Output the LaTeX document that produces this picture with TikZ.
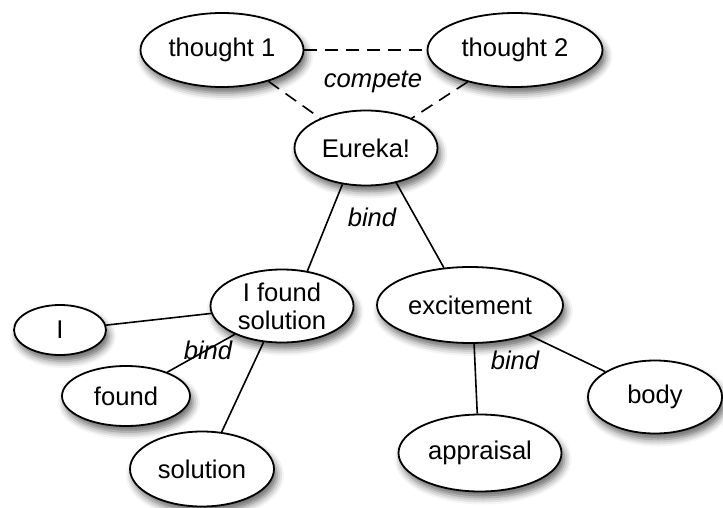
\documentclass[tikz,border=0pt]{standalone}
\usepackage{fontspec}
\setmainfont{Liberation Sans}
\usetikzlibrary{shapes.geometric, shadows.blur}
\definecolor{cInk}{HTML}{000000}
\definecolor{cFill}{HTML}{FFFFFF}
\tikzset{
  concept/.style={ellipse, draw=cInk, fill=cFill, line width=0.9pt, inner sep=0pt,
                  align=center, font=\fontsize{12.8}{14}\selectfont, text=cInk,
                  blur shadow={shadow xshift=1.5pt, shadow yshift=-3pt,
                               shadow blur radius=3.5pt, shadow opacity=60}},
  link/.style={line width=0.8pt, draw=cInk},
  rival/.style={link, dash pattern=on 6.5pt off 4pt},
  rel/.style={font=\fontsize{12.8}{14}\selectfont\itshape, text=cInk, inner sep=0pt},
}

\begin{document}
\begin{tikzpicture}[x=0.5pt, y=-0.5pt]
  \useasboundingbox (0,0) rectangle (723,508);

  % ---- competing thoughts and the insight
  \node[concept, minimum width=81.5pt, minimum height=37pt] (t1) at (222,50) {thought 1};
  \node[concept, minimum width=87.5pt, minimum height=37pt] (t2) at (515,50) {thought 2};
  \node[concept, minimum width=71.5pt, minimum height=37.5pt] (eureka) at (366,148) {Eureka!};

  % ---- bound parts
  \node[concept, minimum width=71.5pt, minimum height=36.5pt] (ifs) at (282,306) {I found\\ solution};
  \node[concept, minimum width=93pt, minimum height=38pt] (exc) at (470,305) {excitement};
  \node[concept, minimum width=46pt, minimum height=25pt] (wI) at (60,330) {I};
  \node[concept, minimum width=64pt, minimum height=30pt] (wfound) at (126,396) {found};
  \node[concept, minimum width=72pt, minimum height=37.5pt] (wsol) at (202,469) {solution};
  \node[concept, minimum width=81.5pt, minimum height=38.5pt] (appr) at (480,453) {appraisal};
  \node[concept, minimum width=67pt, minimum height=36.5pt] (body) at (655,397) {body};

  % ---- connectors
  \draw[rival] (t1.0) -- (t2.180);
  \draw[rival] (t1.326) -- (eureka.147);
  \draw[rival] (t2.214) -- (eureka.33);
  \draw[link] (eureka.237) -- (ifs.54);
  \draw[link] (eureka.311) -- (exc.125);
  \draw[link] (wI.6) -- (ifs.186);
  \draw[link] (wfound.30) -- (ifs.211);
  \draw[link] (wsol.62) -- (ifs.243);
  \draw[link] (exc.276) -- (appr.94);
  \draw[link] (exc.333) -- (body.153);

  % ---- relation labels
  \node[rel] (lcomp) at (373,82) {compete};
  \node[rel] (lbind1) at (372,217) {bind};
  \node[rel] (lbind2) at (208,350) {bind};
  \node[rel] (lbind3) at (515,360) {bind};
\end{tikzpicture}
\end{document}
